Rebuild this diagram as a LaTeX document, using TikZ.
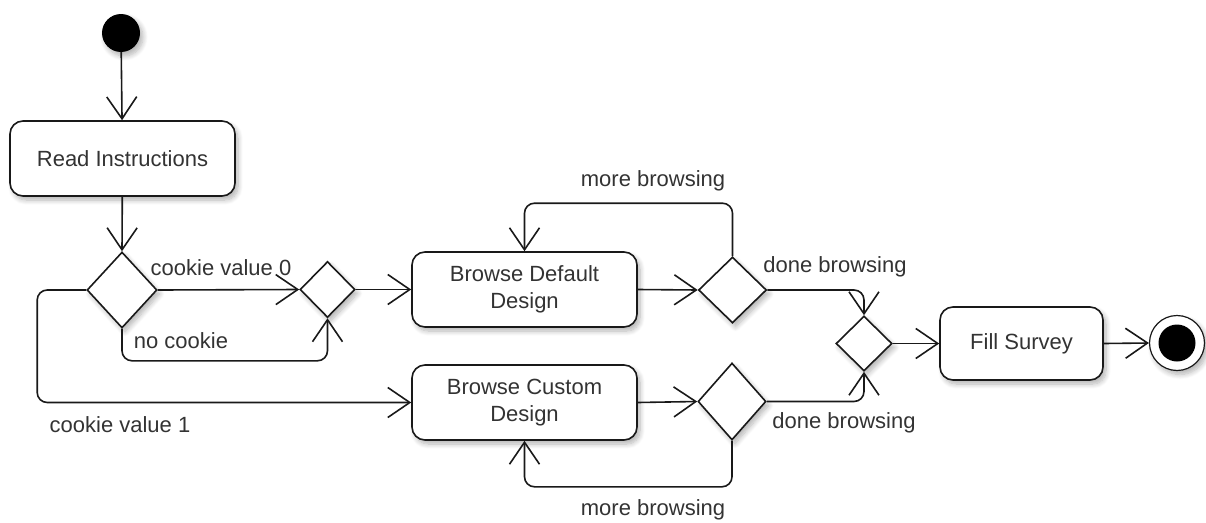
\documentclass[tikz,border=0pt]{standalone}
\usepackage{fontspec}
\setmainfont{Liberation Sans}
\usetikzlibrary{arrows.meta,shapes.geometric,shadows.blur}

\tikzset{
  soft/.style={blur shadow={shadow xshift=3pt, shadow yshift=-4pt,
      shadow blur radius=5pt, shadow blur steps=8, shadow opacity=30}},
  lbl/.style={text=black!80, font=\fontsize{22}{27}\selectfont, inner sep=0pt},
  act/.style={draw=black!90, line width=1.6pt, fill=white, rounded corners=13pt,
      align=center, text=black!80, font=\fontsize{22}{27}\selectfont,
      minimum width=225pt, minimum height=75pt, inner sep=0pt, soft},
  dec/.style={diamond, draw=black!90, line width=1.6pt, fill=white,
      inner sep=0pt, soft},
  flow/.style={draw=black!90, line width=1.6pt, rounded corners=10pt,
      -{Straight Barb[length=22pt,width=30pt]}},
}

\begin{document}
\begin{tikzpicture}[x=1pt,y=-1pt]
  \useasboundingbox (0,0) rectangle (1206,522);

  % initial and final nodes
  \node[circle, fill=black, minimum size=38pt, inner sep=0pt, soft] (start) at (121,33) {};
  \node[circle, draw=black!90, line width=1.2pt, fill=white, minimum size=55pt, inner sep=0pt, soft] (stop) at (1177,343) {};
  \node[circle, fill=black, minimum size=37pt, inner sep=0pt] (stopdot) at (stop.center) {};

  % activities
  \node[act] (read) at (122.5,158.5) {Read Instructions};
  \node[act] (bdef) at (524.5,289.5) {Browse Default\\Design};
  \node[act] (bcus) at (524.5,402.5) {Browse Custom\\Design};
  \node[act, minimum width=163pt, minimum height=73pt] (fill) at (1021.5,343.5) {Fill Survey};

  % decision and merge nodes
  \node[dec, minimum width=70pt, minimum height=76pt] (d1) at (122,290) {};
  \node[dec, minimum width=55pt, minimum height=56pt] (m1) at (327.5,289.5) {};
  \node[dec, minimum width=68pt, minimum height=66pt] (d2) at (732.5,290) {};
  \node[dec, minimum width=68pt, minimum height=77pt] (d3) at (732,401.5) {};
  \node[dec, minimum width=56pt, minimum height=55pt] (m2) at (864,343.5) {};

  % control flows
  \draw[flow] (start) -- (read);
  \draw[flow] (read) -- (d1.north);
  \draw[flow] (d1.east) -- (m1.west);
  \draw[flow] (d1.south) -- ++(0,32) -| (m1.south);
  \draw[flow] (d1.west) -- ++(-49,0) |- (bcus.west);
  \draw[flow] (m1.east) -- (bdef.west);
  \draw[flow] (bdef.east) -- (d2.west);
  \draw[flow] (bcus.east) -- (d3.west);
  \draw[flow] (d2.north) -- ++(0,-53) -| (bdef.north);
  \draw[flow] (d3.south) -- ++(0,46) -| (bcus.south);
  \draw[flow] (d2.east) -| (m2.north);
  \draw[flow] (d3.east) -| (m2.south);
  \draw[flow] (m2.east) -- (fill.west);
  \draw[flow] (fill.east) -- (stop.west);

  % guard labels
  \node[lbl] (l0) at (221,268) {cookie value 0};
  \node[lbl] (lnc) at (181,341) {no cookie};
  \node[lbl] (l1) at (120,425) {cookie value 1};
  \node[lbl] (lmt) at (653,181) {more browsing};
  \node[lbl] (lmb) at (653,510) {more browsing};
  \node[lbl] (ldt) at (835,267) {done browsing};
  \node[lbl] (ldb) at (844,423) {done browsing};
\end{tikzpicture}
\end{document}
